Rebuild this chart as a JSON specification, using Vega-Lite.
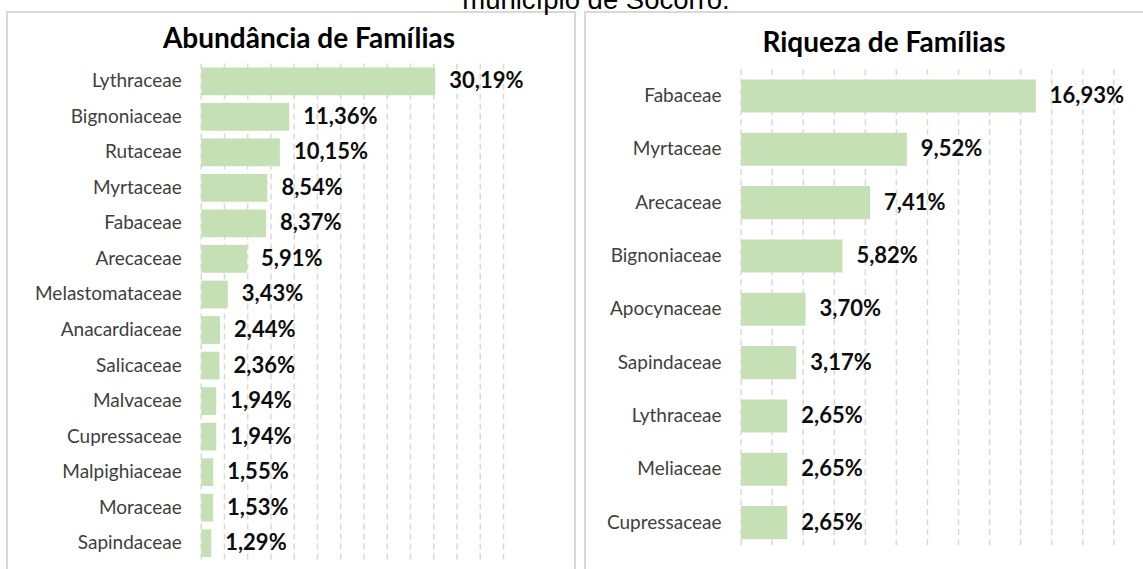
{
  "$schema": "https://vega.github.io/schema/vega-lite/v6.json",
  "background": "white",
  "padding": {"left": 6, "top": -14, "right": -9, "bottom": -3},
  "spacing": 8,
  "title": {
    "text": "município de Socorro.",
    "font": "Liberation Sans",
    "fontSize": 27.5,
    "fontWeight": "normal",
    "color": "#000000",
    "anchor": "middle",
    "baseline": "alphabetic",
    "offset": -25,
    "dx": 16
  },
  "config": {
    "locale": {"number": {"decimal": ",", "thousands": ".", "grouping": [3], "currency": ["R$", ""]}},
    "view": {"stroke": "#d9d9d9", "strokeWidth": 2},
    "axis": {"labelFont": "Lato", "titleFont": "Lato"}
  },
  "hconcat": [
    {
      "width": 568,
      "height": 560,
      "title": {"text": "Abundância de Famílias", "font": "Lato", "fontSize": 28, "fontWeight": "bold", "color": "#000000", "anchor": "middle", "offset": -42, "dx": 18},
      "data": {"values": [
        {"familia": "Lythraceae", "valor": 0.3019},
        {"familia": "Bignoniaceae", "valor": 0.1136},
        {"familia": "Rutaceae", "valor": 0.1015},
        {"familia": "Myrtaceae", "valor": 0.0854},
        {"familia": "Fabaceae", "valor": 0.0837},
        {"familia": "Arecaceae", "valor": 0.0591},
        {"familia": "Melastomataceae", "valor": 0.0343},
        {"familia": "Anacardiaceae", "valor": 0.0244},
        {"familia": "Salicaceae", "valor": 0.0236},
        {"familia": "Malvaceae", "valor": 0.0194},
        {"familia": "Cupressaceae", "valor": 0.0194},
        {"familia": "Malpighiaceae", "valor": 0.0155},
        {"familia": "Moraceae", "valor": 0.0153},
        {"familia": "Sapindaceae", "valor": 0.0129}
      ]},
      "layer": [
        {
          "data": {"values": [{"grade": 0}, {"grade": 0.03}, {"grade": 0.06}, {"grade": 0.09}, {"grade": 0.12}, {"grade": 0.15}, {"grade": 0.18}, {"grade": 0.21}, {"grade": 0.24}, {"grade": 0.27}, {"grade": 0.30}, {"grade": 0.33}, {"grade": 0.36}, {"grade": 0.39}]},
          "mark": {"type": "rule", "color": "#d9d9d9", "strokeWidth": 1.5, "strokeDash": [6, 4]},
          "encoding": {
            "x": {"field": "grade", "type": "quantitative", "axis": null},
            "y": {"datum": "Lythraceae", "type": "nominal", "bandPosition": -0.141},
            "y2": {"datum": "Sapindaceae", "bandPosition": 1.141}
          }
        },
        {
          "mark": {"type": "bar", "color": "#c5e0b4"},
          "encoding": {
            "y": {"field": "familia", "type": "nominal", "sort": null,
              "scale": {"domain": ["Lythraceae", "Bignoniaceae", "Rutaceae", "Myrtaceae", "Fabaceae", "Arecaceae", "Melastomataceae", "Anacardiaceae", "Salicaceae", "Malvaceae", "Cupressaceae", "Malpighiaceae", "Moraceae", "Sapindaceae"], "range": [51.5, 549], "paddingInner": 0.22, "paddingOuter": 0.11},
              "axis": {"title": null, "orient": "left", "offset": -194.2, "labelPadding": 20, "ticks": false, "tickSize": 0, "domain": false, "grid": false, "labelFontSize": 19, "labelColor": "#404040", "labelLimit": 400}},
            "x": {"field": "valor", "type": "quantitative",
              "scale": {"domain": [0, 0.39], "range": [194.2, 496.5], "nice": false, "zero": true},
              "axis": null}
          }
        },
        {
          "mark": {"type": "text", "align": "left", "baseline": "middle", "dx": 14, "font": "Lato", "fontSize": 22, "fontWeight": "bold", "color": "#0d0d0d"},
          "encoding": {
            "y": {"field": "familia", "type": "nominal", "sort": null},
            "x": {"field": "valor", "type": "quantitative"},
            "text": {"field": "valor", "type": "quantitative", "format": ".2%"}
          }
        }
      ]
    },
    {
      "width": 568,
      "height": 560,
      "title": {"text": "Riqueza de Famílias", "font": "Lato", "fontSize": 28, "fontWeight": "bold", "color": "#000000", "anchor": "middle", "offset": -46, "dx": 15},
      "data": {"values": [
        {"familia": "Fabaceae", "valor": 0.1693},
        {"familia": "Myrtaceae", "valor": 0.0952},
        {"familia": "Arecaceae", "valor": 0.0741},
        {"familia": "Bignoniaceae", "valor": 0.0582},
        {"familia": "Apocynaceae", "valor": 0.0370},
        {"familia": "Sapindaceae", "valor": 0.0317},
        {"familia": "Lythraceae", "valor": 0.0265},
        {"familia": "Meliaceae", "valor": 0.0265},
        {"familia": "Cupressaceae", "valor": 0.0265}
      ]},
      "layer": [
        {
          "data": {"values": [{"grade": 0}, {"grade": 0.01784}, {"grade": 0.03568}, {"grade": 0.05352}, {"grade": 0.07136}, {"grade": 0.0892}, {"grade": 0.10704}, {"grade": 0.12488}, {"grade": 0.14272}, {"grade": 0.16056}, {"grade": 0.1784}, {"grade": 0.19624}, {"grade": 0.21408}]},
          "mark": {"type": "rule", "color": "#d9d9d9", "strokeWidth": 1.5, "strokeDash": [6, 4]},
          "encoding": {
            "x": {"field": "grade", "type": "quantitative", "axis": null},
            "y": {"datum": "Fabaceae", "type": "nominal", "bandPosition": -0.306},
            "y2": {"datum": "Cupressaceae", "bandPosition": 1.306}
          }
        },
        {
          "mark": {"type": "bar", "color": "#c5e0b4"},
          "encoding": {
            "y": {"field": "familia", "type": "nominal", "sort": null,
              "scale": {"domain": ["Fabaceae", "Myrtaceae", "Arecaceae", "Bignoniaceae", "Apocynaceae", "Sapindaceae", "Lythraceae", "Meliaceae", "Cupressaceae"], "range": [57.3, 537.3], "paddingInner": 0.38, "paddingOuter": 0.19},
              "axis": {"title": null, "orient": "left", "offset": -156.1, "labelPadding": 20, "ticks": false, "tickSize": 0, "domain": false, "grid": false, "labelFontSize": 19, "labelColor": "#404040", "labelLimit": 400}},
            "x": {"field": "valor", "type": "quantitative",
              "scale": {"domain": [0, 0.21408], "range": [156.1, 528.8], "nice": false, "zero": true},
              "axis": null}
          }
        },
        {
          "mark": {"type": "text", "align": "left", "baseline": "middle", "dx": 14, "font": "Lato", "fontSize": 22, "fontWeight": "bold", "color": "#0d0d0d"},
          "encoding": {
            "y": {"field": "familia", "type": "nominal", "sort": null},
            "x": {"field": "valor", "type": "quantitative"},
            "text": {"field": "valor", "type": "quantitative", "format": ".2%"}
          }
        }
      ]
    }
  ]
}
